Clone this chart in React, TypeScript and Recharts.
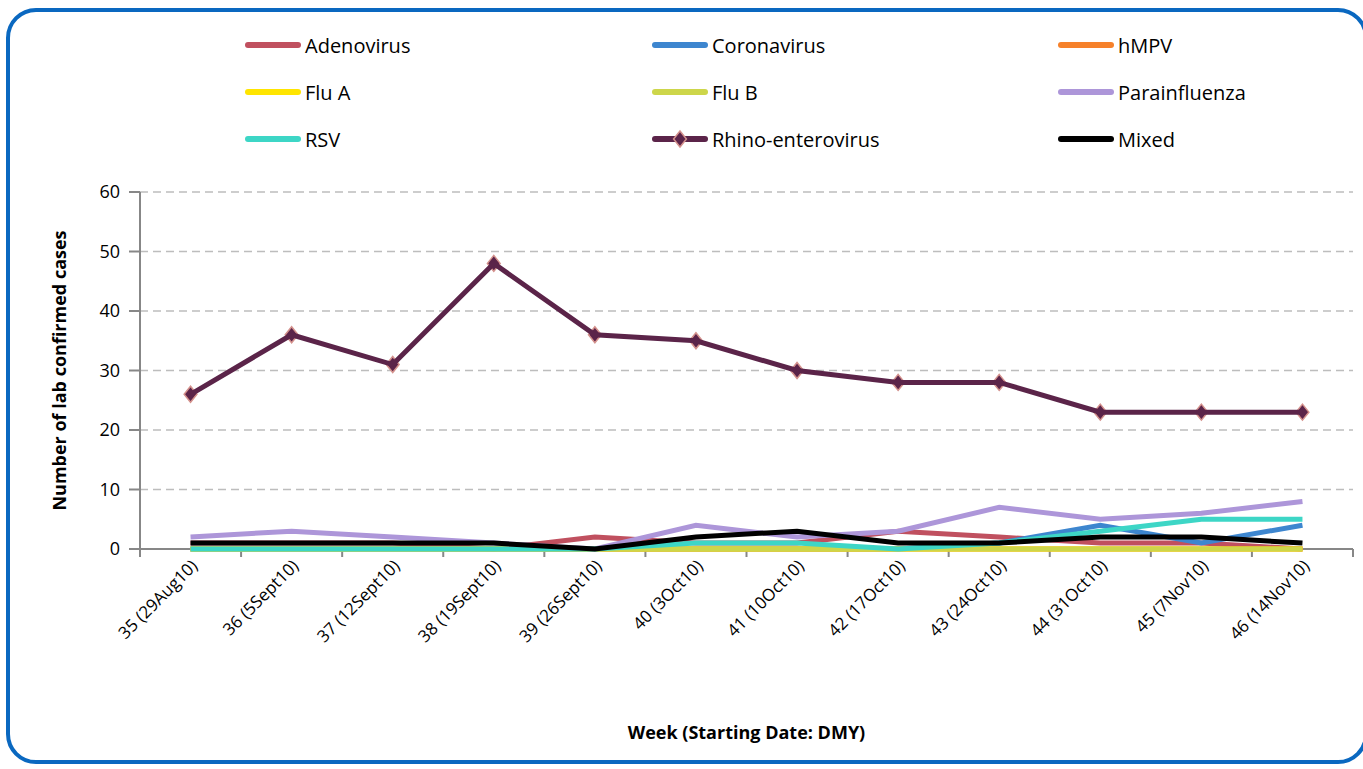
import React from "react";
import { LineChart, Line, XAxis, YAxis, CartesianGrid } from "recharts";

const WEEKS = [
  "35 (29Aug10)",
  "36 (5Sept10)",
  "37 (12Sept10)",
  "38 (19Sept10)",
  "39 (26Sept10)",
  "40 (3Oct10)",
  "41 (10Oct10)",
  "42 (17Oct10)",
  "43 (24Oct10)",
  "44 (31Oct10)",
  "45 (7Nov10)",
  "46 (14Nov10)",
];

const ADENOVIRUS = [1, 1, 1, 0, 2, 1, 1, 3, 2, 1, 1, 0];
const CORONAVIRUS = [0, 0, 0, 0, 0, 0, 0, 0, 1, 4, 1, 4];
const HMPV = [0, 0, 0, 0, 0, 0, 0, 0, 0, 0, 0, 0];
const FLU_A = [0, 0, 0, 0, 0, 0, 0, 0, 0, 0, 0, 0];
const FLU_B = [0, 0, 0, 0, 0, 0, 0, 0, 0, 0, 0, 0];
const PARAINFLUENZA = [2, 3, 2, 1, 0, 4, 2, 3, 7, 5, 6, 8];
const RSV = [0, 0, 0, 0, 0, 1, 1, 0, 1, 3, 5, 5];
const RHINO = [26, 36, 31, 48, 36, 35, 30, 28, 28, 23, 23, 23];
const MIXED = [1, 1, 1, 1, 0, 2, 3, 1, 1, 2, 2, 1];

const Y_TICKS = [0, 10, 20, 30, 40, 50, 60];

const SERIES = [
  { key: "adeno", name: "Adenovirus", color: "#c0505f", values: ADENOVIRUS },
  { key: "corona", name: "Coronavirus", color: "#3d86cf", values: CORONAVIRUS },
  { key: "hmpv", name: "hMPV", color: "#f6812a", values: HMPV },
  { key: "fluA", name: "Flu A", color: "#ffe500", values: FLU_A },
  { key: "fluB", name: "Flu B", color: "#cdd64a", values: FLU_B },
  { key: "para", name: "Parainfluenza", color: "#ad96d9", values: PARAINFLUENZA },
  { key: "rsv", name: "RSV", color: "#3dd6c6", values: RSV },
  { key: "rhino", name: "Rhino-enterovirus", color: "#5b2449", values: RHINO },
  { key: "mixed", name: "Mixed", color: "#000000", values: MIXED },
];

const data = WEEKS.map((week, i) => {
  const row: Record<string, number | string> = { week, x: i + 0.5 };
  SERIES.forEach((s) => {
    row[s.key] = s.values[i];
  });
  return row;
});

const labelTicks = WEEKS.map((_, i) => i + 0.5);
const boundaryTicks = [...WEEKS.map((_, i) => i), WEEKS.length];

const FONT = "'Open Sans', 'Noto Sans', sans-serif";

function Diamond(props: any) {
  const { cx, cy } = props;
  if (cx == null || cy == null) return null;
  const r = 8;
  return (
    <polygon
      points={`${cx},${cy - r} ${cx + r * 0.8},${cy} ${cx},${cy + r} ${cx - r * 0.8},${cy}`}
      fill="#5b2449"
      stroke="#d4918c"
      strokeWidth={1.5}
    />
  );
}

function WeekTick(props: any) {
  const { x, y, payload } = props;
  const label = WEEKS[Math.floor(payload.value)];
  return (
    <g transform={`translate(${x + 8},${y + 9})`}>
      <text
        textAnchor="end"
        transform="rotate(-45)"
        fontSize={17}
        fontFamily={FONT}
        fill="#000"
      >
        {label}
      </text>
    </g>
  );
}

function EmptyTick() {
  return <g />;
}

function LegendBox() {
  const cols = [245, 652, 1058];
  const rows = [45, 92, 139];
  return (
    <>
      {SERIES.map((s, i) => {
        const left = cols[i % 3];
        const top = rows[Math.floor(i / 3)];
        return (
          <div
            key={s.key}
            style={{
              position: "absolute",
              left,
              top: top - 14,
              height: 28,
              display: "flex",
              alignItems: "center",
              fontFamily: FONT,
              fontSize: 20,
              color: "#000",
              whiteSpace: "nowrap",
            }}
          >
            <svg width={56} height={20} style={{ marginRight: 4 }}>
              <line
                x1={3}
                y1={10}
                x2={53}
                y2={10}
                stroke={s.color}
                strokeWidth={6}
                strokeLinecap="round"
              />
              {s.key === "rhino" && <Diamond cx={28} cy={10} />}
            </svg>
            {s.name}
          </div>
        );
      })}
    </>
  );
}

export default function App() {
  return (
    <div
      style={{
        position: "absolute",
        left: 0,
        top: 0,
        width: 1363,
        height: 769,
        overflow: "hidden",
        background: "#fff",
      }}
    >
      <div
        style={{
          position: "absolute",
          left: 6,
          top: 8,
          width: 1362,
          height: 756,
          border: "4px solid #0a68c0",
          borderRadius: 30,
          boxSizing: "border-box",
        }}
      />
      <LegendBox />
      <div style={{ position: "absolute", left: 0, top: 0 }}>
        <LineChart
          width={1363}
          height={769}
          data={data}
          margin={{ top: 192, right: 10, bottom: 30, left: 40 }}
        >
          <CartesianGrid
            vertical={false}
            stroke="#bdbdbd"
            strokeWidth={1.5}
            strokeDasharray="8 5"
          />
          <XAxis
            dataKey="x"
            type="number"
            domain={[0, WEEKS.length]}
            ticks={boundaryTicks}
            tick={<EmptyTick />}
            tickSize={8}
            height={1}
            interval={0}
            zIndex={0}
            axisLine={{ stroke: "#878787", strokeWidth: 2 }}
            tickLine={{ stroke: "#878787", strokeWidth: 2 }}
          />
          <XAxis
            xAxisId="labels"
            dataKey="x"
            type="number"
            domain={[0, WEEKS.length]}
            ticks={labelTicks}
            tick={<WeekTick />}
            tickLine={false}
            axisLine={false}
            height={189}
            interval={0}
            label={{
              value: "Week (Starting Date: DMY)",
              position: "insideBottom",
              offset: 0,
              style: {
                fontFamily: FONT,
                fontSize: 18,
                fontWeight: 700,
                fill: "#000",
              },
            }}
          />
          <YAxis
            domain={[0, 60]}
            ticks={Y_TICKS}
            width={100}
            tickSize={11}
            tickMargin={9}
            tick={{ fontFamily: FONT, fontSize: 18, fill: "#000" }}
            axisLine={{ stroke: "#878787", strokeWidth: 2 }}
            tickLine={{ stroke: "#878787", strokeWidth: 2 }}
            label={{
              value: "Number of lab confirmed cases",
              angle: -90,
              position: "insideLeft",
              offset: 20,
              style: {
                textAnchor: "middle",
                fontFamily: FONT,
                fontSize: 18,
                fontWeight: 700,
                fill: "#000",
              },
            }}
          />
          {SERIES.map((s) => (
            <Line
              key={s.key}
              dataKey={s.key}
              name={s.name}
              type="linear"
              stroke={s.color}
              strokeWidth={5}
              dot={s.key === "rhino" ? <Diamond /> : false}
              activeDot={false}
              zIndex={600}
              isAnimationActive={false}
            />
          ))}
        </LineChart>
      </div>
    </div>
  );
}
